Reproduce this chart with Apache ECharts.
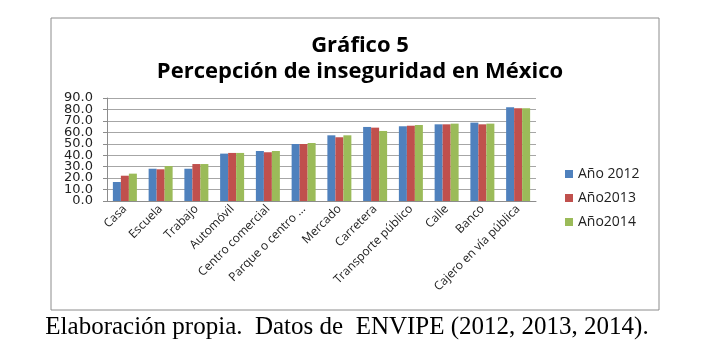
<!DOCTYPE html>
<html>
<head>
<meta charset="utf-8">
<script src="https://cdn.jsdelivr.net/npm/echarts@6/dist/echarts.min.js"></script>
<style>
  html, body { margin: 0; padding: 0; background: #fff; }
  #chart { width: 701px; height: 355px; }
</style>
</head>
<body>
<div id="chart"></div>
<script>
// lugares (eje x)
const lugares = ["Casa", "Escuela", "Trabajo", "Automóvil", "Centro comercial", "Parque o centro ...",
  "Mercado", "Carretera", "Transporte público", "Calle", "Banco", "Cajero en vía pública"];
const anio2012 = [16.6, 28.2, 28.2, 41.4, 43.7, 49.8, 57.4, 64.7, 65.3, 67.0, 68.5, 81.9];
const anio2013 = [22.1, 27.7, 32.3, 42.0, 42.6, 49.8, 55.7, 64.1, 65.8, 67.0, 67.0, 81.0];
const anio2014 = [23.9, 30.6, 32.3, 42.0, 43.7, 50.7, 57.4, 61.2, 66.4, 67.6, 67.6, 81.0];
const nombres = ["Año 2012", "Año2013", "Año2014"];
const colores = ["#4F81BD", "#C0504D", "#9BBB59"];

const chart = echarts.init(document.getElementById("chart"));

function serie(i, data) {
  return {
    name: nombres[i],
    type: "bar",
    data: data,
    barWidth: 8,
    barGap: "0%",
    itemStyle: { color: colores[i] },
  };
}

// the labels are packed tighter than their height, so they are split
// over two overlaid axes (even tens / odd tens) to keep all of them
function ejeY(par, principal) {
  return {
    type: "value",
    position: "left",
    min: 0, max: 90, interval: 10,
    axisLine: { show: principal, lineStyle: { color: "#8c8c8c" } },
    axisTick: { show: principal, length: 4, lineStyle: { color: "#8c8c8c" } },
    axisLabel: {
      margin: 14, interval: 0,
      showMinLabel: true, showMaxLabel: true, hideOverlap: false,
      fontFamily: "DejaVu Sans", fontSize: 13, color: "#222",
      formatter: (v) => ((v / 10) % 2 === par ? v.toFixed(1) : ""),
    },
    splitLine: { show: principal, lineStyle: { color: "#a6a6a6" } },
  };
}

chart.setOption({
  animation: false,
  backgroundColor: "#fff",
  title: [
    {
      text: "Gráfico 5",
      left: 355, top: 30, textAlign: "center",
      textStyle: { fontFamily: "Open Sans", fontWeight: "bold", fontSize: 22, color: "#000" },
    },
    {
      text: "Percepción de inseguridad en México",
      left: 355, top: 56, textAlign: "center",
      textStyle: { fontFamily: "Open Sans", fontWeight: "bold", fontSize: 22, color: "#000" },
    },
    {
      text: "Elaboración propia.  Datos de  ENVIPE (2012, 2013, 2014).",
      left: 342, top: 310, textAlign: "center",
      textStyle: { fontFamily: "Liberation Serif", fontWeight: "normal", fontSize: 25, color: "#000" },
    },
  ],
  graphic: [
    {
      type: "rect",
      shape: { x: 51, y: 18, width: 608, height: 292 },
      style: { fill: "none", stroke: "#8c8c8c", lineWidth: 1 },
      silent: true,
    },
  ],
  legend: {
    orient: "vertical",
    left: 560, top: 162,
    itemWidth: 8, itemHeight: 8, itemGap: 10,
    icon: "rect",
    data: nombres,
    textStyle: { fontFamily: "Open Sans", fontSize: 14, color: "#222" },
  },
  grid: { left: 107, right: 165, top: 98, bottom: 154 },
  xAxis: {
    type: "category",
    data: lugares,
    axisLine: { lineStyle: { color: "#8c8c8c" } },
    axisTick: { show: false },
    axisLabel: {
      interval: 0, rotate: 45, margin: 6,
      fontFamily: "Open Sans", fontSize: 12, color: "#222",
    },
  },
  yAxis: [ejeY(0, true), ejeY(1, false)],
  series: [serie(0, anio2012), serie(1, anio2013), serie(2, anio2014)],
});
</script>
</body>
</html>
